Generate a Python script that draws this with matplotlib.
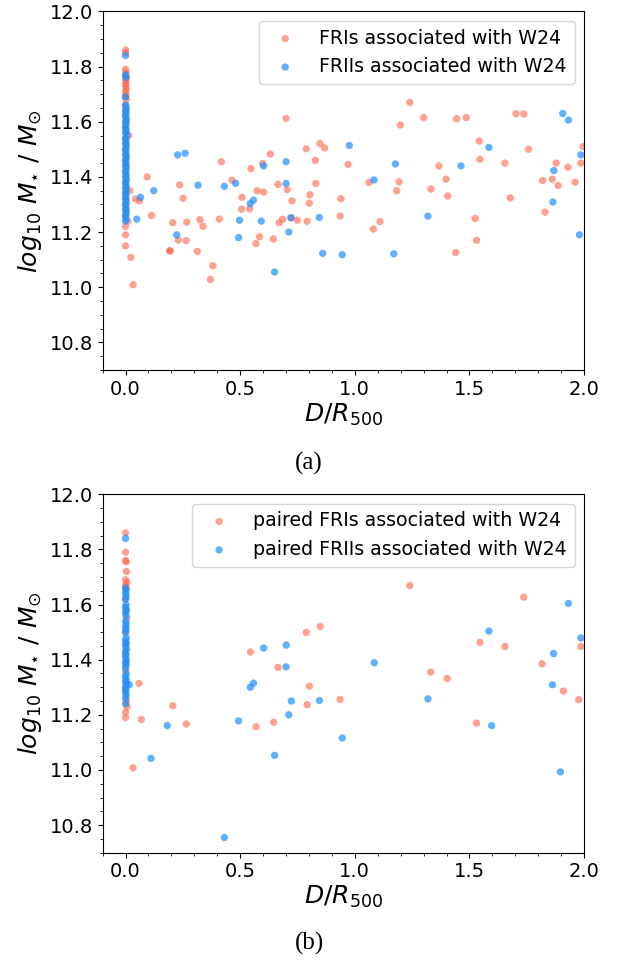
import matplotlib
matplotlib.use('Agg')
import matplotlib.pyplot as plt
from matplotlib.ticker import MultipleLocator

# ---- panel (a): all FRIs / FRIIs ----
fri_col_y = [11.86, 11.85, 11.79, 11.78, 11.77, 11.76, 11.75, 11.74, 11.73, 11.72,
             11.71, 11.70, 11.69, 11.68, 11.66, 11.64, 11.62, 11.60, 11.58, 11.56,
             11.55, 11.54, 11.52, 11.50, 11.48, 11.46, 11.44, 11.42, 11.40, 11.38,
             11.36, 11.35, 11.34, 11.32, 11.30, 11.28, 11.26, 11.24, 11.22, 11.19, 11.15]
fri_col_x = [0.0, 0.0, 0.0, 0.002, 0.0, 0.003, 0.0, 0.002, 0.0, 0.003,
             0.0, 0.002, 0.0, 0.003, 0.0, 0.002, 0.0, 0.003, 0.0, 0.002,
             0.014, 0.0, 0.003, 0.0, 0.002, 0.0, 0.003, 0.0, 0.002, 0.0,
             0.003, 0.018, 0.0, 0.002, 0.0, 0.003, 0.0, 0.01, 0.0, 0.0, 0.0]
fri_x = [0.094, 0.236, 0.251, 0.418, 0.464, 0.508, 0.547, 0.574, 0.602, 0.598,
         0.631, 0.700, 0.665, 0.705, 0.726, 0.788, 0.828, 0.830, 0.804, 0.848,
         0.868, 0.971, 0.939, 1.240, 1.300, 1.199, 1.444, 1.486, 1.703, 1.737,
         1.543, 1.758, 1.996, 1.986, 1.546, 1.367, 1.655, 1.878, 1.930, 1.062,
         1.193, 1.183, 1.398, 1.332, 1.405, 1.819, 1.861, 1.887, 1.961, 1.678,
         0.043, 0.061, 0.541, 0.801, 0.113, 0.206, 0.267, 0.325, 0.338, 0.409,
         0.506, 0.670, 0.686, 0.723, 0.749, 0.792, 0.936, 0.230, 0.265, 0.584,
         0.569, 0.645, 0.191, 0.196, 0.313, 0.381, 0.370, 0.023, 0.033, 1.525,
         1.830, 1.110, 1.081, 1.531, 1.440]
fri_y = [11.400, 11.371, 11.323, 11.455, 11.388, 11.326, 11.430, 11.350, 11.345, 11.449,
         11.483, 11.612, 11.373, 11.354, 11.313, 11.502, 11.460, 11.376, 11.335, 11.521,
         11.505, 11.445, 11.321, 11.670, 11.615, 11.588, 11.611, 11.615, 11.629, 11.628,
         11.530, 11.500, 11.510, 11.450, 11.464, 11.440, 11.450, 11.450, 11.435, 11.380,
         11.382, 11.350, 11.392, 11.356, 11.331, 11.387, 11.392, 11.369, 11.381, 11.324,
         11.320, 11.313, 11.284, 11.305, 11.260, 11.234, 11.236, 11.245, 11.221, 11.247,
         11.283, 11.234, 11.247, 11.252, 11.243, 11.239, 11.258, 11.171, 11.169, 11.183,
         11.158, 11.175, 11.132, 11.132, 11.130, 11.078, 11.028, 11.108, 11.009, 11.249,
         11.272, 11.238, 11.211, 11.170, 11.126]

frii_col_y = [11.84, 11.77, 11.76, 11.69, 11.66, 11.65, 11.64, 11.63, 11.62, 11.61,
              11.60, 11.59, 11.58, 11.57, 11.56, 11.55, 11.54, 11.53, 11.52, 11.51,
              11.50, 11.49, 11.48, 11.47, 11.46, 11.45, 11.44, 11.43, 11.42, 11.41,
              11.40, 11.39, 11.38, 11.37, 11.36, 11.35, 11.34, 11.33, 11.32, 11.31,
              11.30, 11.29, 11.28, 11.27, 11.26, 11.25, 11.24]
frii_col_x = [0.0, 0.0, 0.002, 0.0, 0.0, 0.003, 0.0, 0.002, 0.0, 0.004,
              0.0, 0.002, 0.0, 0.003, 0.0, 0.005, 0.0, 0.002, 0.0, 0.003,
              0.0, 0.002, 0.0, 0.004, 0.0, 0.002, 0.0, 0.003, 0.0, 0.002,
              0.0, 0.004, 0.0, 0.002, 0.0, 0.003, 0.0, 0.002, 0.0, 0.003,
              0.0, 0.002, 0.0, 0.003, 0.0, 0.002, 0.0]
frii_x = [0.065, 0.123, 0.227, 0.260, 0.316, 0.431, 0.480, 0.544, 0.558, 0.602,
          0.700, 0.700, 0.976, 1.907, 1.932, 1.585, 1.986, 1.177, 1.463, 1.868,
          1.084, 1.864, 1.319, 1.980, 0.945, 1.170, 0.049, 0.497, 0.592, 0.721,
          0.845, 0.223, 0.493, 0.712, 0.860, 0.650]
frii_y = [11.326, 11.350, 11.480, 11.486, 11.370, 11.366, 11.377, 11.303, 11.316, 11.440,
          11.455, 11.376, 11.514, 11.630, 11.606, 11.507, 11.480, 11.447, 11.440, 11.423,
          11.389, 11.309, 11.258, 11.190, 11.118, 11.121, 11.247, 11.243, 11.240, 11.252,
          11.253, 11.190, 11.180, 11.200, 11.123, 11.055]

# ---- panel (b): paired FRIs / FRIIs ----
pfri_col_y = [11.86, 11.79, 11.76, 11.755, 11.72, 11.69, 11.68, 11.67, 11.66, 11.62,
              11.58, 11.55, 11.50, 11.46, 11.42, 11.39, 11.36, 11.32, 11.29, 11.25,
              11.23, 11.21, 11.19]
pfri_col_x = [0.0, 0.0, 0.0, 0.003, 0.004, 0.0, 0.006, 0.0, 0.003, 0.0,
              0.002, 0.005, 0.0, 0.003, 0.0, 0.002, 0.0, 0.003, 0.0, 0.004,
              0.006, 0.0, 0.0]
pfri_x = [0.545, 0.788, 0.849, 0.665, 1.240, 1.737, 1.546, 1.655, 1.986, 1.817,
          1.331, 1.403, 1.910, 1.977, 0.936, 1.531, 0.802, 0.792, 0.646, 0.569,
          0.059, 0.206, 0.069, 0.265, 0.033]
pfri_y = [11.428, 11.499, 11.521, 11.372, 11.669, 11.627, 11.463, 11.448, 11.448, 11.385,
          11.355, 11.332, 11.286, 11.255, 11.256, 11.170, 11.304, 11.237, 11.173, 11.157,
          11.314, 11.233, 11.183, 11.167, 11.008]

pfrii_col_y = [11.84, 11.66, 11.65, 11.64, 11.63, 11.62, 11.60, 11.59, 11.58, 11.57,
               11.56, 11.54, 11.53, 11.52, 11.51, 11.50, 11.48, 11.47, 11.46, 11.45,
               11.44, 11.43, 11.42, 11.41, 11.40, 11.39, 11.38, 11.37, 11.35, 11.34,
               11.33, 11.32, 11.31, 11.30, 11.29, 11.28, 11.27, 11.26, 11.24]
pfrii_col_x = [0.0, 0.0, 0.002, 0.0, 0.003, 0.0, 0.002, 0.0, 0.004, 0.0,
               0.002, 0.0, 0.003, 0.0, 0.002, 0.0, 0.003, 0.0, 0.002, 0.0,
               0.004, 0.0, 0.002, 0.0, 0.003, 0.0, 0.002, 0.0, 0.003, 0.0,
               0.002, 0.0, 0.003, 0.0, 0.002, 0.0, 0.003, 0.0, 0.0]
pfrii_x = [0.602, 0.701, 0.700, 1.932, 1.585, 1.986, 1.085, 1.867, 1.862, 1.319,
           1.597, 0.945, 1.897, 0.544, 0.558, 0.723, 0.846, 0.712, 0.493, 0.650,
           0.182, 0.111, 0.431, 0.016]
pfrii_y = [11.442, 11.453, 11.374, 11.604, 11.504, 11.479, 11.389, 11.422, 11.309, 11.258,
           11.161, 11.116, 10.993, 11.300, 11.315, 11.250, 11.252, 11.200, 11.178, 11.053,
           11.161, 11.042, 10.755, 11.310]

red = 'tomato'
blue = 'dodgerblue'

fig = plt.figure(figsize=(6.22, 9.6), dpi=100)
ax1 = fig.add_axes([0.165, 0.6146, 0.774, 0.3735])
ax2 = fig.add_axes([0.165, 0.1118, 0.774, 0.3733])

panels = [
    (ax1, fri_col_x + fri_x, fri_col_y + fri_y, frii_col_x + frii_x, frii_col_y + frii_y,
     'FRIs associated with W24', 'FRIIs associated with W24', '(a)', 0.517),
    (ax2, pfri_col_x + pfri_x, pfri_col_y + pfri_y, pfrii_col_x + pfrii_x, pfrii_col_y + pfrii_y,
     'paired FRIs associated with W24', 'paired FRIIs associated with W24', '(b)', 0.017),
]

for ax, rx, ry, bx, by, lab1, lab2, cap, capy in panels:
    ax.scatter(rx, ry, s=28, color=red, alpha=0.6, edgecolors='none', label=lab1)
    ax.scatter(bx, by, s=28, color=blue, alpha=0.7, edgecolors='none', label=lab2)
    ax.set_xlim(-0.1, 2.0)
    ax.set_ylim(10.7, 12.0)
    ax.xaxis.set_major_locator(MultipleLocator(0.5))
    ax.xaxis.set_minor_locator(MultipleLocator(0.1))
    ax.yaxis.set_major_locator(MultipleLocator(0.2))
    ax.yaxis.set_minor_locator(MultipleLocator(0.05))
    ax.tick_params(labelsize=14)
    ax.set_xlabel(r'$D/R_{500}$', fontsize=18, labelpad=2)
    ax.set_ylabel(r'$log_{10}\ M_{\star}\ /\ M_{\odot}$', fontsize=18)
    ax.legend(loc='upper right', fontsize=13.7)
    fig.text(0.497, capy, cap, ha='center', va='center', fontsize=18,
             family='Liberation Serif')

fig.savefig('out.png', dpi=100)
